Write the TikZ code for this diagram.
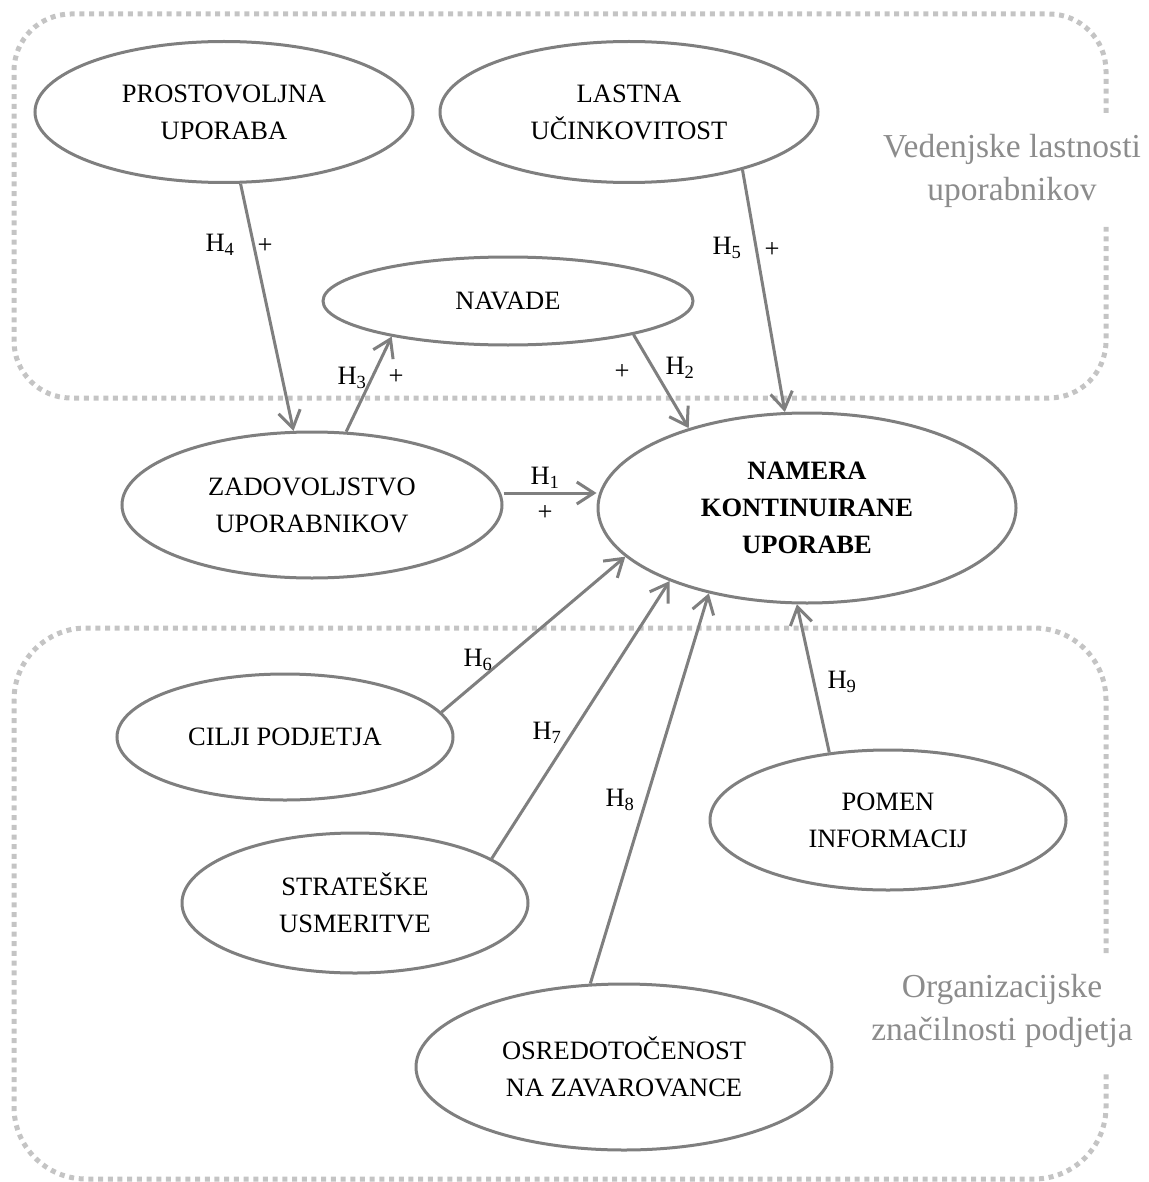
\documentclass[tikz,border=0pt]{standalone}
\usepackage{fontspec}
\setmainfont{Liberation Serif}
\usetikzlibrary{shapes.geometric,arrows.meta}
\definecolor{edgegray}{HTML}{7F7F7F}
\definecolor{boxgray}{HTML}{C4C4C4}
\definecolor{titlegray}{HTML}{8C8C8C}
\begin{document}
\begin{tikzpicture}[x=1pt,y=-1pt,
  construct/.style={ellipse, draw=edgegray, line width=3pt, inner sep=0pt,
    align=center, font=\fontsize{26.5}{37}\selectfont},
  link/.style={draw=edgegray, line width=3pt,
    -{Straight Barb[length=17pt,width=22pt]}},
  hyp/.style={font=\fontsize{26.5}{30}\selectfont, inner sep=0pt},
  groupframe/.style={draw=boxgray, line width=5pt, dash pattern=on 5pt off 4.7pt},
  grouptitle/.style={text=titlegray, align=center, inner sep=0pt,
    font=\fontsize{33.5}{43}\selectfont}
]
\useasboundingbox (0,0) rectangle (1148,1182);

% group frames, open on the right where the titles sit
\draw[groupframe, rounded corners=57pt]
  (1106,113) -- (1106,14) -- (14,14) -- (14,398) -- (1106,398) -- (1106,227);
\draw[groupframe, rounded corners=72pt]
  (1106,953) -- (1106,628) -- (14,628) -- (14,1179) -- (1106,1179) -- (1106,1073);

\node[grouptitle] (gtop) at (1012,171) {Vedenjske lastnosti\\uporabnikov};
\node[grouptitle] (gbot) at (1002,1011) {Organizacijske\\značilnosti podjetja};

% constructs
\node[construct, minimum width=378pt, minimum height=141pt] (pro) at (224,112) {PROSTOVOLJNA\\UPORABA};
\node[construct, minimum width=378pt, minimum height=141pt] (las) at (629,112) {LASTNA\\UČINKOVITOST};
\node[construct, minimum width=370pt, minimum height=88pt] (nav) at (508,301) {NAVADE};
\node[construct, minimum width=380pt, minimum height=146pt] (zad) at (312,505) {ZADOVOLJSTVO\\UPORABNIKOV};
\node[construct, minimum width=418pt, minimum height=190pt, font=\fontsize{26.5}{37}\selectfont\bfseries] (nam) at (807,508) {NAMERA\\KONTINUIRANE\\UPORABE};
\node[construct, minimum width=336pt, minimum height=126pt] (cil) at (285,737) {CILJI PODJETJA};
\node[construct, minimum width=346pt, minimum height=140pt] (str) at (355,903) {STRATEŠKE\\USMERITVE};
\node[construct, minimum width=416pt, minimum height=166pt] (osr) at (624,1067) {OSREDOTOČENOST\\NA ZAVAROVANCE};
\node[construct, minimum width=356pt, minimum height=140pt] (pom) at (888,820) {POMEN\\INFORMACIJ};

% hypothesised paths
\coordinate (h1start) at ([yshift=12pt]zad.east);
\draw[link] (pro.-77.3) -- (zad.104.4);
\draw[link] (zad.65.7) -- (nav.197.4);
\draw[link] (nav.-15) -- (nam.146.1);
\draw[link] (las.-27.4) -- (nam.103);
\draw[link] (h1start) -- (nam.west |- h1start);
\draw[link] (cil.9) -- (nam.195.6);
\draw[link] (str.18.4) -- (nam.208.6);
\draw[link] (osr.112.6) -- (nam.221.5);
\draw[link] (pom.131.4) -- (nam.264.6);

% path labels
\node[hyp] (h4) at (220,245) {H\textsubscript{4}};
\node[hyp] (p4) at (265,246) {+};
\node[hyp] (h5) at (727,248) {H\textsubscript{5}};
\node[hyp] (p5) at (772,250) {+};
\node[hyp] (h3) at (352,378) {H\textsubscript{3}};
\node[hyp] (p3) at (396,377) {+};
\node[hyp] (h2) at (680,368) {H\textsubscript{2}};
\node[hyp] (p2) at (622,372) {+};
\node[hyp] (h1) at (545,478) {H\textsubscript{1}};
\node[hyp] (p1) at (545,513) {+};
\node[hyp] (h6) at (478,660) {H\textsubscript{6}};
\node[hyp] (h7) at (547,733) {H\textsubscript{7}};
\node[hyp] (h8) at (620,800) {H\textsubscript{8}};
\node[hyp] (h9) at (842,682) {H\textsubscript{9}};
\end{tikzpicture}
\end{document}
